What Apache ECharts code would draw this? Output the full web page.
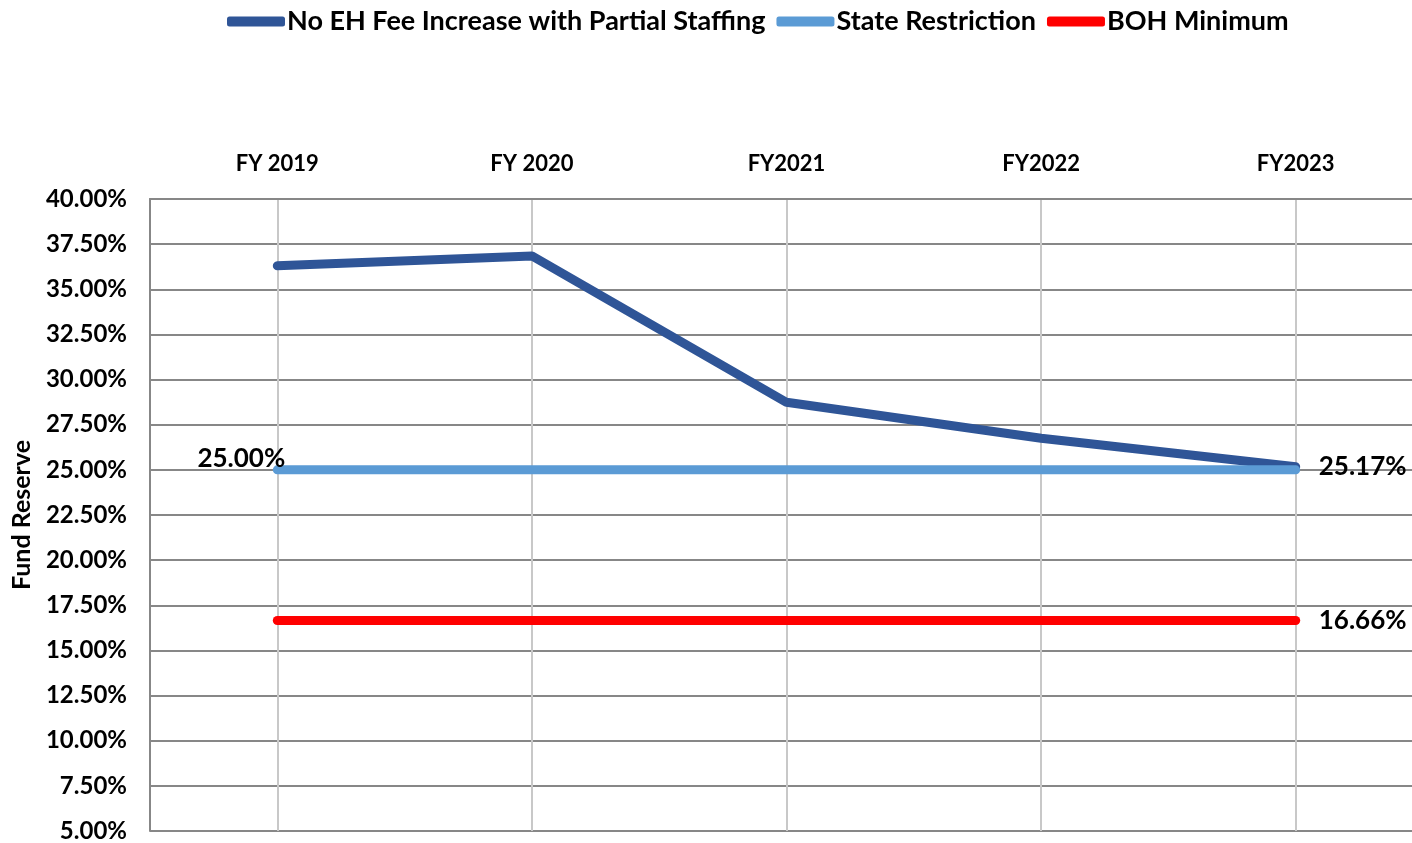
<!DOCTYPE html>
<html>
<head>
<meta charset="utf-8">
<script src="https://cdn.jsdelivr.net/npm/echarts@6/dist/echarts.min.js"></script>
<style>
html,body{margin:0;padding:0;background:#fff;overflow:hidden;}
#chart{width:1423px;height:843px;}
</style>
</head>
<body>
<div id="chart"></div>
<script>
const categories = ['FY 2019', 'FY 2020', 'FY2021', 'FY2022', 'FY2023'];
const noFeeIncrease = [36.30, 36.85, 28.74, 26.75, 25.17];
const stateRestriction = [25.00, 25.00, 25.00, 25.00, 25.00];
const bohMinimum = [16.66, 16.66, 16.66, 16.66, 16.66];
const seriesNames = ['No EH Fee Increase with Partial Staffing', 'State Restriction', 'BOH Minimum'];

const FONT = 'Lato';
const pct = v => v.toFixed(2) + '%';

function withLabel(arr, idx, labelOpt) {
  return arr.map((v, i) => i === idx ? { value: v, label: Object.assign({ show: true }, labelOpt) } : v);
}

const labelBase = { color: '#000', fontFamily: FONT, fontWeight: 'bold', fontSize: 26, formatter: p => pct(p.value) };

const chart = echarts.init(document.getElementById('chart'));
chart.setOption({
  animation: false,
  textStyle: { fontFamily: FONT },
  legend: {
    top: 3,
    left: 222,
    itemWidth: 58,
    itemHeight: 10,
    itemGap: 11,
    icon: 'roundRect',
    textStyle: { fontFamily: FONT, fontWeight: 'bold', fontSize: 27, color: '#000', padding: [0, 0, 0, -3] },
    data: seriesNames
  },
  grid: { left: 150, right: 0, top: 199, bottom: 10, containLabel: false },
  xAxis: {
    type: 'category',
    position: 'top',
    data: categories,
    boundaryGap: true,
    axisLine: { show: true, lineStyle: { color: '#878787', width: 2 } },
    axisTick: { show: false, alignWithLabel: true },
    axisLabel: { fontFamily: FONT, fontWeight: 'bold', fontSize: 22, color: '#000', margin: 24 },
    splitLine: { show: true, alignWithLabel: true, lineStyle: { color: '#c8c8c8', width: 2 } }
  },
  yAxis: {
    type: 'value',
    min: 5,
    max: 40,
    interval: 2.5,
    name: 'Fund Reserve',
    nameLocation: 'middle',
    nameGap: 116,
    nameTextStyle: { fontFamily: FONT, fontWeight: 'bold', fontSize: 25, color: '#000' },
    axisLine: { show: true, lineStyle: { color: '#878787', width: 2 } },
    axisTick: { show: false },
    axisLabel: { fontFamily: FONT, fontWeight: 'bold', fontSize: 24, color: '#000', margin: 23, formatter: v => pct(v) },
    splitLine: { show: true, lineStyle: { color: '#878787', width: 2 } }
  },
  series: [
    {
      name: seriesNames[0],
      type: 'line',
      data: withLabel(noFeeIncrease, 4, Object.assign({}, labelBase, { position: 'right', distance: 23 })),
      color: '#2F5597',
      lineStyle: { width: 9, cap: 'round', join: 'round', color: '#2F5597' },
      symbol: 'circle', symbolSize: 0.1, showSymbol: true,
      label: { show: false },
      emphasis: { disabled: true }
    },
    {
      name: seriesNames[1],
      type: 'line',
      data: withLabel(stateRestriction, 0, Object.assign({}, labelBase, { position: 'top', distance: 0, offset: [-36, 2] })),
      color: '#5B9BD5',
      lineStyle: { width: 9, cap: 'round', join: 'round', color: '#5B9BD5' },
      symbol: 'circle', symbolSize: 0.1, showSymbol: true,
      label: { show: false },
      emphasis: { disabled: true }
    },
    {
      name: seriesNames[2],
      type: 'line',
      data: withLabel(bohMinimum, 4, Object.assign({}, labelBase, { position: 'right', distance: 23 })),
      color: '#FF0000',
      lineStyle: { width: 9, cap: 'round', join: 'round', color: '#FF0000' },
      symbol: 'circle', symbolSize: 0.1, showSymbol: true,
      label: { show: false },
      emphasis: { disabled: true }
    }
  ]
});
</script>
</body>
</html>
